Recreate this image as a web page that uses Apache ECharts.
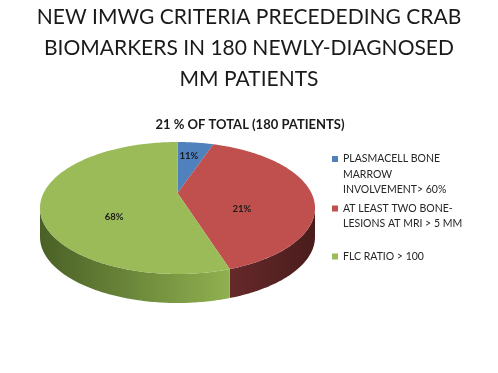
<!DOCTYPE html>
<html>
<head>
<meta charset="utf-8">
<script src="https://cdn.jsdelivr.net/npm/echarts@6/dist/echarts.min.js"></script>
<style>
html,body{margin:0;padding:0;background:#fff;}
#chart{width:498px;height:373px;}
</style>
</head>
<body>
<div id="chart"></div>
<script>
// ---- data ----
var chartTitle = 'NEW IMWG CRITERIA PRECEDEDING CRAB\nBIOMARKERS IN 180 NEWLY-DIAGNOSED\nMM PATIENTS';
var chartSubtitle = '21 % OF TOTAL (180 PATIENTS)';
var categories = [
  'PLASMACELL BONE MARROW INVOLVEMENT> 60%',
  'AT LEAST TWO BONE-LESIONS AT MRI > 5 MM',
  'FLC RATIO > 100'
];
var legendLabels = [
  'PLASMACELL BONE\nMARROW\nINVOLVEMENT> 60%',
  'AT LEAST TWO BONE-\nLESIONS AT MRI > 5 MM',
  'FLC RATIO > 100'
];
// slice sizes as drawn in the picture (share of the circle)
var sliceShares = [4.2, 39.6, 56.2];
// percentage labels printed on the slices
var sliceLabels = ['11%', '21%', '68%'];

// ---- style ----
var topColors = ['#4f81bd', '#c0504d', '#9bbb59'];
var sideColors = [
  ['#3b6294', '#2c4a70'],
  ['#4a1c1c', '#66292a'],
  ['#90b150', '#4a6026']
];
var FONT = 'Lato, "Open Sans", sans-serif';
var CX = 177.5, CY = 208, RX = 137.5, RY = 66, DEPTH = 29, APEX_SHIFT = -15;

function pt(t, dy) {
  return [CX + RX * Math.sin(t), CY - RY * Math.cos(t) + (dy || 0)];
}
function arc(a, b, dy) {
  var pts = [];
  var n = Math.max(2, Math.ceil(Math.abs(b - a) / (Math.PI / 180)));
  for (var i = 0; i <= n; i++) pts.push(pt(a + (b - a) * i / n, dy));
  return pts;
}

function renderSlice(params, api) {
  var si = params.seriesIndex;
  var total = 0, before = 0;
  for (var i = 0; i < sliceShares.length; i++) {
    total += sliceShares[i];
    if (i < si) before += sliceShares[i];
  }
  var v = api.value(0);
  var t0 = before / total * 2 * Math.PI;
  var t1 = (before + v) / total * 2 * Math.PI;
  var children = [];
  var a = Math.max(t0, Math.PI / 2), b = Math.min(t1, 3 * Math.PI / 2);
  if (a < b) {
    var side = arc(a, b, 0).concat(arc(b, a, DEPTH));
    children.push({
      type: 'polygon',
      shape: { points: side },
      style: {
        fill: new echarts.graphic.LinearGradient(1, 0, 0, 0, [
          { offset: 0, color: sideColors[si][0] },
          { offset: 1, color: sideColors[si][1] }
        ])
      }
    });
  }
  var apex = [CX, CY + APEX_SHIFT];
  children.push({
    type: 'polygon',
    shape: { points: [apex].concat(arc(t0, t1, 0)) },
    style: { fill: topColors[si] }
  });
  var tm = (t0 + t1) / 2;
  var k = (v / total) < 0.1 ? 0.8 : 0.47;
  var e = pt(tm, 0);
  children.push({
    type: 'text',
    x: CX + (e[0] - CX) * k - (k < 0.5 ? 0 : 3),
    y: CY + (e[1] - CY) * k + (k < 0.5 ? 3 : 0),
    style: {
      text: sliceLabels[si],
      fill: '#1a1a1a',
      fontSize: 9.5,
      fontWeight: 'bold',
      fontFamily: FONT,
      align: 'center',
      verticalAlign: 'middle'
    }
  });
  return { type: 'group', children: children };
}

var LH = 15.5;
var LEG_FS = 10.5;
var legendCenters = [159, 208.5, 256.5];
// legend icons (one legend per item so each can sit on its first text line)
var legends = categories.map(function (name, i) {
  return {
    show: true,
    data: [name],
    orient: 'vertical',
    left: 332,
    top: legendCenters[i] - 3,
    padding: 0,
    itemWidth: 6,
    itemHeight: 6,
    icon: 'rect',
    selectedMode: false,
    formatter: function () { return ''; },
    textStyle: { fontSize: 1, lineHeight: 1 }
  };
});
// legend texts
var legendTexts = legendLabels.map(function (lbl, i) {
  return {
    text: lbl,
    left: 343,
    top: legendCenters[i] - LH / 2,
    padding: 0,
    textStyle: { fontFamily: FONT, fontSize: LEG_FS, fontWeight: 'normal', color: '#262626', lineHeight: LH }
  };
});

var series = categories.map(function (name, i) {
  return {
    type: 'custom',
    name: name,
    coordinateSystem: 'none',
    renderItem: renderSlice,
    itemStyle: { color: topColors[i] },
    data: [[sliceShares[i]]],
    animation: false
  };
});

var chart = echarts.init(document.getElementById('chart'), null, { renderer: 'canvas' });
chart.setOption({
  animation: false,
  color: topColors,
  title: [
    {
      text: chartTitle,
      left: 249, top: 2, padding: 0,
      textAlign: 'center',
      textStyle: { fontFamily: FONT, fontSize: 21, fontWeight: 'normal', color: '#1a1a1a', lineHeight: 31 }
    },
    {
      text: chartSubtitle,
      left: 250, top: 117, padding: 0,
      textAlign: 'center',
      textStyle: { fontFamily: FONT, fontSize: 13, fontWeight: 'bold', color: '#1a1a1a', lineHeight: 15 }
    }
  ].concat(legendTexts),
  legend: legends,
  series: series
});
</script>
</body>
</html>
